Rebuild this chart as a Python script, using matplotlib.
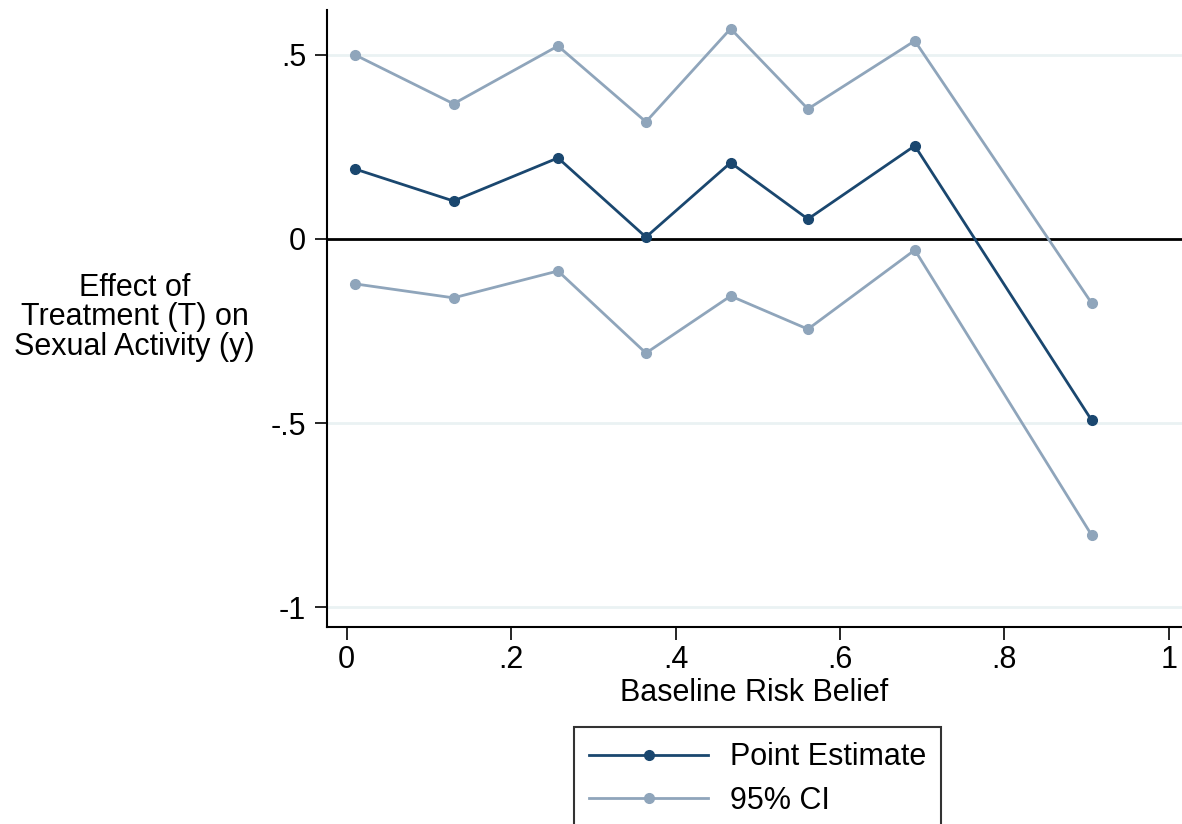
import numpy as np
import matplotlib
matplotlib.use("Agg")
import matplotlib.pyplot as plt

plt.rcParams['font.family'] = ['Liberation Sans', 'DejaVu Sans']

# baseline risk belief bins
risk = [0.010, 0.130, 0.257, 0.364, 0.467, 0.561, 0.691, 0.906]
estimate = [0.190, 0.103, 0.220, 0.005, 0.207, 0.054, 0.253, -0.492]
ci_upper = [0.500, 0.367, 0.524, 0.318, 0.571, 0.353, 0.538, -0.174]
ci_lower = [-0.122, -0.160, -0.087, -0.310, -0.155, -0.245, -0.030, -0.804]

xticks = [0, 0.2, 0.4, 0.6, 0.8, 1]
xticklabels = ['0', '.2', '.4', '.6', '.8', '1']
yticks = [-1, -0.5, 0, 0.5]
yticklabels = ['-1', '-.5', '0', '.5']

navy = '#1a476f'
light = '#8fa5bb'

fig = plt.figure(figsize=(11.82, 8.24), dpi=100)
ax = fig.add_axes([0.2766, 0.239, 0.7234, 0.749])

for yv in yticks:
    if yv != 0:
        ax.axhline(yv, color='#eaf2f3', lw=2, zorder=0)
ax.axhline(0, color='black', lw=2, zorder=1)

ax.plot(risk, ci_upper, color=light, lw=2, marker='o', ms=7, zorder=2, label='95% CI')
ax.plot(risk, ci_lower, color=light, lw=2, marker='o', ms=7, zorder=2)
ax.plot(risk, estimate, color=navy, lw=2, marker='o', ms=7, zorder=3, label='Point Estimate')

ax.set_xlim(-0.024, 1.016)
ax.set_ylim(-1.054, 0.622)
ax.set_xticks(xticks)
ax.set_xticklabels(xticklabels)
ax.set_yticks(yticks)
ax.set_yticklabels(yticklabels)
ax.tick_params(axis='both', labelsize=22, length=9, width=1.2, direction='out')
ax.tick_params(axis='y', pad=6)
ax.tick_params(axis='x', pad=4)
for s in ['top', 'right']:
    ax.spines[s].set_visible(False)
for s in ['left', 'bottom']:
    ax.spines[s].set_linewidth(1.5)

ax.set_xlabel('Baseline Risk Belief', fontsize=22, labelpad=2)
fig.text(0.114, 0.615, 'Effect of\nTreatment (T) on\nSexual Activity (y)',
         ha='center', va='center', fontsize=22, linespacing=0.97)

h, l = ax.get_legend_handles_labels()
leg = fig.legend(h[::-1], l[::-1], loc='upper center', bbox_to_anchor=(0.641, 0.1177),
                 borderaxespad=0, fontsize=22, frameon=True, fancybox=False,
                 edgecolor='black', handlelength=3.9, handletextpad=0.7,
                 borderpad=0.5, labelspacing=0.45)
leg.get_frame().set_linewidth(1.5)

fig.savefig('out.png', dpi=100)
